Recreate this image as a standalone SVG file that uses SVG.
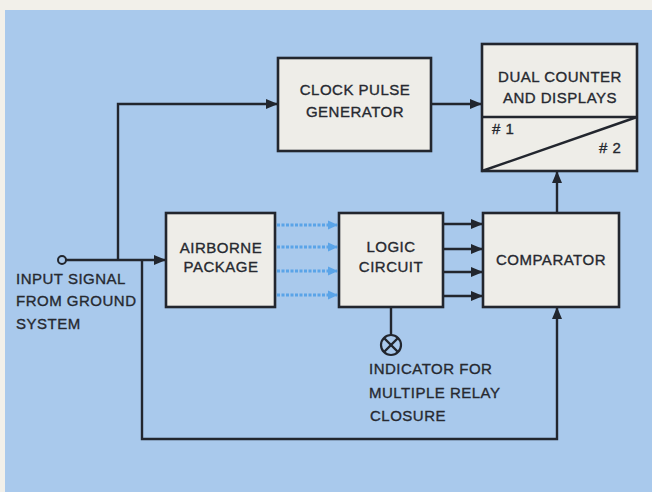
<svg xmlns="http://www.w3.org/2000/svg" width="652" height="492" viewBox="0 0 652 492">
<defs>
<style>
.box{fill:#eeede8;stroke:#22262e;stroke-width:2.6}
.ln{fill:none;stroke:#22262e;stroke-width:2.4}
.bl{fill:none;stroke:#5aa4e8;stroke-width:3;stroke-dasharray:3 1.5}
text{font-family:"Liberation Sans",Arial,sans-serif;font-size:15px;fill:#262930;stroke:#262930;stroke-width:0.35;letter-spacing:0.5px}
.c{text-anchor:middle}
</style>
<marker id="ah" markerWidth="12" markerHeight="10" refX="11" refY="5" orient="auto" markerUnits="userSpaceOnUse">
<path d="M0,0 L12,5 L0,10 Z" fill="#22262e"/>
</marker>
<marker id="bh" markerWidth="10" markerHeight="10" refX="9" refY="5" orient="auto" markerUnits="userSpaceOnUse">
<path d="M0,0.5 L10,5 L0,9.5 Z" fill="#5aa4e8"/>
</marker>
</defs>
<rect x="0" y="0" width="652" height="492" fill="#f2f0ea"/>
<rect x="5" y="10" width="647" height="482" fill="#a9c9ec"/>

<g id="connectors">
<polyline class="ln" points="118,260 118,104 277,104" marker-end="url(#ah)"/>
<line class="ln" x1="66" y1="260" x2="165" y2="260" marker-end="url(#ah)"/>
<line class="ln" x1="431" y1="104" x2="481" y2="104" marker-end="url(#ah)"/>
<line class="ln" x1="557" y1="213" x2="557" y2="172" marker-end="url(#ah)"/>
<polyline class="ln" points="142,260 142,439 557,439 557,308" marker-end="url(#ah)"/>
<line class="bl" x1="277" y1="225" x2="337" y2="225" marker-end="url(#bh)"/>
<line class="bl" x1="277" y1="247" x2="337" y2="247" marker-end="url(#bh)"/>
<line class="bl" x1="277" y1="271" x2="337" y2="271" marker-end="url(#bh)"/>
<line class="bl" x1="277" y1="295" x2="337" y2="295" marker-end="url(#bh)"/>
<line class="ln" x1="443" y1="224" x2="482" y2="224" marker-end="url(#ah)"/>
<line class="ln" x1="443" y1="249" x2="482" y2="249" marker-end="url(#ah)"/>
<line class="ln" x1="443" y1="272" x2="482" y2="272" marker-end="url(#ah)"/>
<line class="ln" x1="443" y1="296" x2="482" y2="296" marker-end="url(#ah)"/>
<line class="ln" x1="391" y1="308" x2="391" y2="335"/>
</g>

<g id="input">
<circle cx="62" cy="260" r="4" fill="#a9c9ec" stroke="#22262e" stroke-width="2"/>
<text x="16" y="284">INPUT SIGNAL</text>
<text x="16" y="306">FROM GROUND</text>
<text x="16" y="329">SYSTEM</text>
</g>

<g id="clock">
<rect class="box" x="278" y="58" width="153" height="93"/>
<text class="c" x="355" y="95">CLOCK PULSE</text>
<text class="c" x="355" y="117">GENERATOR</text>
</g>

<g id="counter">
<rect class="box" x="482" y="44" width="155" height="127"/>
<line class="ln" x1="482" y1="117" x2="637" y2="117"/>
<line class="ln" x1="482" y1="171" x2="637" y2="117"/>
<text class="c" x="560" y="82">DUAL COUNTER</text>
<text class="c" x="560" y="103">AND DISPLAYS</text>
<text x="492" y="134"># 1</text>
<text x="599" y="153"># 2</text>
</g>

<g id="airborne">
<rect class="box" x="166" y="213" width="109" height="94"/>
<text class="c" x="221" y="253">AIRBORNE</text>
<text class="c" x="221" y="272">PACKAGE</text>
</g>

<g id="logic">
<rect class="box" x="339" y="213" width="104" height="94"/>
<text class="c" x="391" y="252">LOGIC</text>
<text class="c" x="391" y="272">CIRCUIT</text>
</g>

<g id="comparator">
<rect class="box" x="483" y="213" width="136" height="94"/>
<text class="c" x="551" y="265">COMPARATOR</text>
</g>

<g id="indicator">
<circle cx="391" cy="345" r="10" fill="none" stroke="#22262e" stroke-width="2.2"/>
<line class="ln" x1="384" y1="338" x2="398" y2="352" stroke-width="2"/>
<line class="ln" x1="398" y1="338" x2="384" y2="352" stroke-width="2"/>
<text x="369" y="374">INDICATOR FOR</text>
<text x="369" y="398">MULTIPLE RELAY</text>
<text x="370" y="421">CLOSURE</text>
</g>
</svg>
